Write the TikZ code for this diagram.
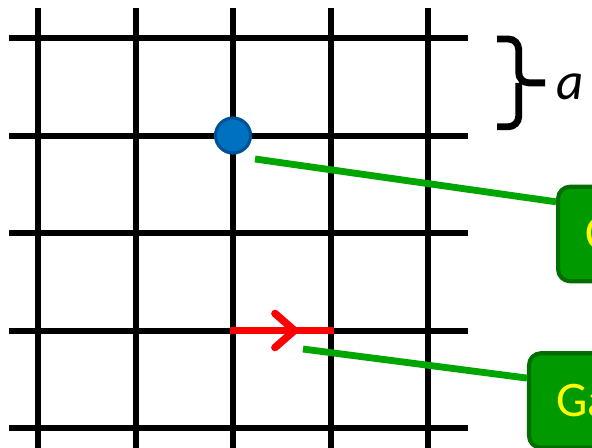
\documentclass[tikz,border=0pt]{standalone}
\usepackage{fontspec}
\setmainfont{Carlito}
\usetikzlibrary{calc}
\definecolor{sitefill}{RGB}{0,112,192}
\definecolor{siteedge}{RGB}{0,82,150}
\definecolor{pointergreen}{RGB}{0,166,0}
\definecolor{tagfill}{RGB}{0,153,0}
\definecolor{tagedge}{RGB}{0,110,0}
\definecolor{tagtext}{RGB}{255,255,0}

\begin{document}
\begin{tikzpicture}[
  latt/.style={line width=1.75pt},
  pointer/.style={pointergreen,line width=2pt},
  tag/.style={draw=tagedge,fill=tagfill,line width=1.2pt,rounded corners=3.5pt,
    anchor=west,text=tagtext,font=\fontsize{14.5}{17}\selectfont,
    inner xsep=0.28cm,minimum height=0.97cm,text width=1.5cm,align=left}]
  \useasboundingbox (-0.39,-0.205) rectangle (5.682,4.39);
  \foreach \i in {0,...,4} {
    \draw[latt] (\i,-0.3)--(\i,4.31);
    \draw[latt] (-0.3,\i)--(4.405,\i);
  }
  \draw[line width=2pt,rounded corners=3pt] (4.71,3.99)--(4.93,3.99)--(4.93,3.54)--(5.2,3.54)
     (4.93,3.54)--(4.93,3.09)--(4.71,3.09);
  \node (spacing) at (5.46,3.50) {\fontsize{15.5}{18}\selectfont\itshape a};
  \coordinate (linkstart) at (1.97,1);
  \coordinate (linkend) at (3.04,1);
  \draw[red,line width=2.2pt] (linkstart)--(linkend);
  \draw[red,line width=2.2pt,line cap=round,line join=round] (2.43,1.175)--(2.63,1)--(2.43,0.825);
  \node[circle,fill=sitefill,draw=siteedge,line width=0.9pt,minimum size=0.36cm,inner sep=0pt] (site) at (2,3) {};
  \node[tag] (matterbox) at (5.313,1.99) {C};
  \node[tag] (gaugebox) at (5.015,0.282) {Ga};
  \coordinate (sitetail) at (2.226,2.759);
  \coordinate (linktail) at (2.718,0.81);
  \draw[pointer] (sitetail)--($(matterbox.west)+(0,0.33)$);
  \draw[pointer] (linktail)--($(gaugebox.west)+(0,0.23)$);
\end{tikzpicture}
\end{document}
